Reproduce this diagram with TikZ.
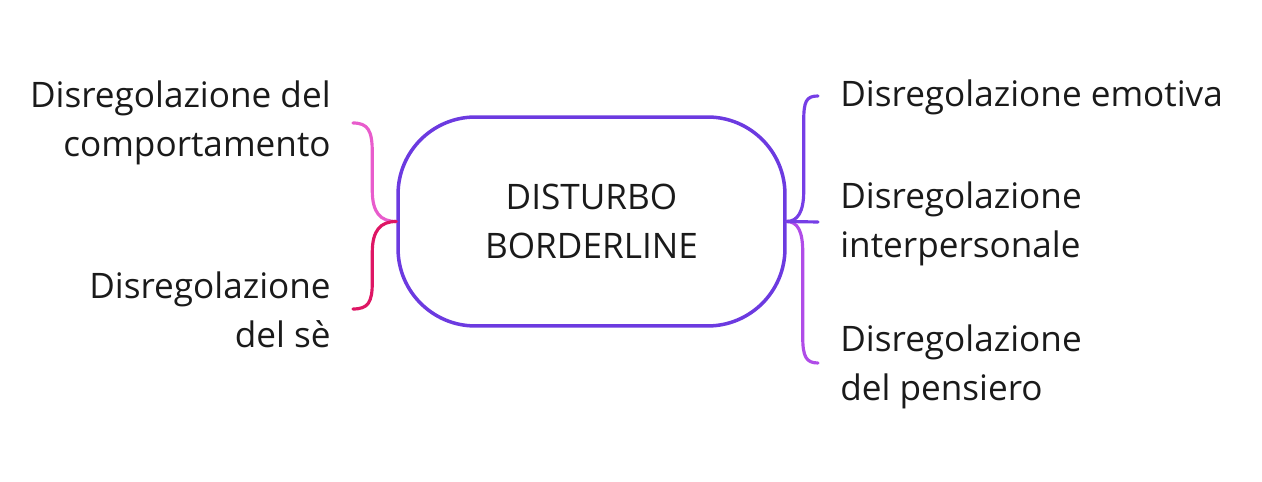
\documentclass[tikz,border=0pt]{standalone}
\usepackage{fontspec}
\setmainfont{Open Sans}
\definecolor{boxviolet}{RGB}{108,58,224}
\definecolor{emoviolet}{RGB}{118,62,230}
\definecolor{thinkviolet}{RGB}{176,76,232}
\definecolor{behavpink}{RGB}{232,92,204}
\definecolor{selfred}{RGB}{222,22,100}
\definecolor{inkblack}{RGB}{26,26,26}

\begin{document}
\begin{tikzpicture}[x=0.02cm, y=-0.02cm, line cap=round, line join=round,
  label/.style={inner sep=0pt, text=inkblack, font=\fontsize{20}{28.3}\selectfont},
  brace/.style={line width=1.8pt}]
\useasboundingbox (0,0) rectangle (1262,482);

% ---------- centre ----------
\node[draw=boxviolet, line width=2pt, rounded corners=44pt,
      minimum width=7.74cm, minimum height=4.18cm, align=center,
      text=inkblack, font=\fontsize{20}{28.3}\selectfont]
  (core) at (591.5,221.5) {DISTURBO\\BORDERLINE};

% ---------- labels (base = last line) ----------
\node[label, anchor=base east, align=right] (behav) at (331,157)
  {Disregolazione del\\comportamento};
\node[label, anchor=base east, align=right] (self) at (331,348)
  {Disregolazione\\del sè};
\node[label, anchor=base west, align=left] (emot) at (840,107)
  {Disregolazione emotiva};
\node[label, anchor=base west, align=left] (inter) at (840,258)
  {Disregolazione\\interpersonale};
\node[label, anchor=base west, align=left] (think) at (840,401)
  {Disregolazione\\del pensiero};

% ---------- brace ends ----------
\coordinate (behavend) at (353,123);
\coordinate (selfend) at (353,309);
\coordinate (emotend) at (818,96);
\coordinate (interend) at (818,222);
\coordinate (thinkend) at (818,363);

% ---------- braces ----------
\draw[brace, behavpink] (core.west) .. controls ++(-16,0) and ++(0,22) .. ++(-24,-31)
  -- ++(0,-38) .. controls ++(0,-22) and ++(15,0) .. (behavend);
\draw[brace, selfred] (core.west) .. controls ++(-16,0) and ++(0,-22) .. ++(-24,31)
  -- ++(0,30) .. controls ++(0,20) and ++(15,0) .. (selfend);
\draw[brace, emoviolet] (core.east) .. controls ++(11,0) and ++(0,20) .. ++(17,-30)
  -- ++(0,-70) .. controls ++(0,-20) and ++(-12,0) .. (emotend);
\draw[brace, thinkviolet] (core.east) .. controls ++(11,0) and ++(0,-20) .. ++(16,30)
  -- ++(0,85) .. controls ++(0,20) and ++(-12,0) .. (thinkend);
\draw[brace, emoviolet] (core.east) -- (interend);

\end{tikzpicture}
\end{document}
